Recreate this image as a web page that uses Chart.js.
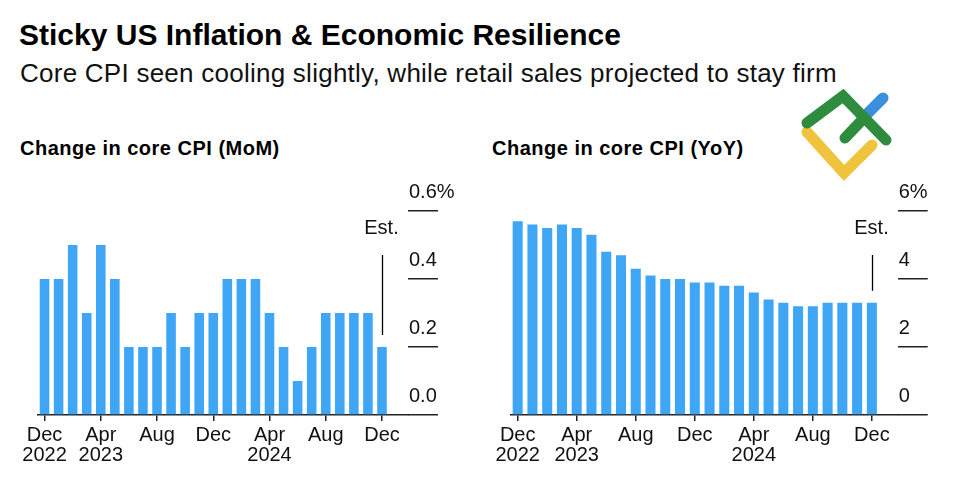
<!DOCTYPE html>
<html>
<head>
<meta charset="utf-8">
<script src="https://cdn.jsdelivr.net/npm/chart.js@4/dist/chart.umd.min.js"></script>
<style>
  body { margin: 0; background: #fff; font-family: "Liberation Sans", Arial, sans-serif; color: #000; }
  #wrap { position: relative; width: 954px; height: 495px; overflow: hidden; }
  .t { position: absolute; white-space: nowrap; }
  #title { left: 19px; top: 18px; font-size: 30px; font-weight: bold; }
  #sub { left: 20px; top: 58px; font-size: 26px; letter-spacing: 0.25px; color: #111; }
  .head { top: 137px; font-size: 20px; font-weight: bold; letter-spacing: 0.5px; }
  .box { position: absolute; top: 180px; width: 477px; height: 290px; }
  #logo { position: absolute; left: 795px; top: 88px; }
</style>
</head>
<body>
<div id="wrap">
  <div id="title" class="t">Sticky US Inflation &amp; Economic Resilience</div>
  <div id="sub" class="t">Core CPI seen cooling slightly, while retail sales projected to stay firm</div>
  <div class="t head" style="left:20px">Change in core CPI (MoM)</div>
  <div class="t head" style="left:492px">Change in core CPI (YoY)</div>
  <svg id="logo" width="100" height="95" viewBox="0 0 100 95">
    <g fill="none" stroke-linecap="round" stroke-width="11">
      <polyline points="12,44 49,85 77,57" stroke="#f0c33c"/>
      <line x1="70" y1="28" x2="88" y2="10" stroke="#3c8fdd"/>
      <polyline points="12,35 48,8 91,52" stroke="#2f8c3e"/>
      <line x1="50" y1="50" x2="69" y2="30" stroke="#2f8c3e"/>
    </g>
  </svg>
  <div class="box" style="left:0"><canvas id="mom"></canvas></div>
  <div class="box" style="left:477px"><canvas id="yoy"></canvas></div>
</div>
<script>
const months = ['Dec', 'Jan', 'Feb', 'Mar', 'Apr', 'May', 'Jun', 'Jul', 'Aug', 'Sep', 'Oct', 'Nov',
                'Dec', 'Jan', 'Feb', 'Mar', 'Apr', 'May', 'Jun', 'Jul', 'Aug', 'Sep', 'Oct', 'Nov', 'Dec'];
const years = ['2022', '', '', '', '2023', '', '', '', '', '', '', '', '', '', '', '', '2024', '', '', '', '', '', '', '', ''];
const momValues = [0.4, 0.4, 0.5, 0.3, 0.5, 0.4, 0.2, 0.2, 0.2, 0.3, 0.2, 0.3, 0.3,
                   0.4, 0.4, 0.4, 0.3, 0.2, 0.1, 0.2, 0.3, 0.3, 0.3, 0.3, 0.2];
const yoyValues = [5.7, 5.6, 5.5, 5.6, 5.5, 5.3, 4.8, 4.7, 4.3, 4.1, 4.0, 4.0, 3.9,
                   3.9, 3.8, 3.8, 3.6, 3.4, 3.3, 3.2, 3.2, 3.3, 3.3, 3.3, 3.3];
const momTicks = [0, 0.2, 0.4, 0.6];
const yoyTicks = [0, 2, 4, 6];

const FONT = "'Liberation Sans', Arial, sans-serif";
const BLUE = '#3ea6f5';

// "Est." note above the last bar
const estPlugin = {
    id: 'est',
    afterDatasetsDraw(chart) {
        const {ctx, chartArea, scales: {x, y}} = chart;
        const data = chart.data.datasets[0].data;
        const last = data[data.length - 1];
        const px = Math.round(x.getPixelForValue(last.x)) + 0.5;
        ctx.save();
        ctx.strokeStyle = '#000';
        ctx.lineWidth = 1.3;
        ctx.beginPath();
        ctx.moveTo(px, chartArea.top + 44);
        ctx.lineTo(px, y.getPixelForValue(last.y) - 12);
        ctx.stroke();
        ctx.fillStyle = '#111';
        ctx.font = '20px ' + FONT;
        ctx.textAlign = 'center';
        ctx.textBaseline = 'middle';
        ctx.fillText('Est.', px - 1, chartArea.top + 17);
        ctx.restore();
    }
};

function makeChart(id, values, ticks, fmt, xMax, pad) {
    return new Chart(document.getElementById(id), {
        type: 'bar',
        data: {
            datasets: [{
                data: values.map((v, i) => ({x: i, y: v})),
                backgroundColor: BLUE,
                borderWidth: 0,
                barPercentage: 0.68,
                categoryPercentage: 1
            }]
        },
        options: {
            responsive: true,
            maintainAspectRatio: false,
            animation: false,
            layout: {padding: pad},
            plugins: {legend: {display: false}, tooltip: {enabled: false}},
            scales: {
                x: {
                    type: 'linear',
                    offset: false,
                    min: -0.5,
                    max: xMax,
                    afterFit: s => { s.height = 55; },
                    border: {display: true, color: '#222', width: 1.5},
                    grid: {offset: false, drawOnChartArea: false, drawTicks: true, tickLength: 6, color: '#222', lineWidth: 1.5},
                    ticks: {
                        stepSize: 4,
                        includeBounds: false,
                        autoSkip: false,
                        maxRotation: 0,
                        padding: 5,
                        color: '#111',
                        font: {family: FONT, size: 20, lineHeight: 0.97},
                        callback: v => years[v] ? [months[v], years[v]] : months[v]
                    }
                },
                y: {
                    position: 'right',
                    min: ticks[0],
                    max: ticks[ticks.length - 1],
                    afterBuildTicks: s => { s.ticks = ticks.map(v => ({value: v})); },
                    afterFit: s => { s.width = 50; },
                    border: {display: false},
                    grid: {drawOnChartArea: false, drawTicks: true, tickLength: 30, color: '#222', lineWidth: 1.5},
                    ticks: {
                        padding: -29,
                        labelOffset: -19,
                        color: '#111',
                        font: {family: FONT, size: 20},
                        callback: (v, i) => fmt(v) + (i === ticks.length - 1 ? '%' : '')
                    }
                }
            }
        },
        plugins: [estPlugin]
    });
}

makeChart('mom', momValues, momTicks, v => v.toFixed(1), 25.85, {left: 37.5, right: 19, top: 31, bottom: 0});
makeChart('yoy', yoyValues, yoyTicks, v => String(v), 25.75, {left: 33.3, right: 6.3, top: 31, bottom: 0});
</script>
</body>
</html>
